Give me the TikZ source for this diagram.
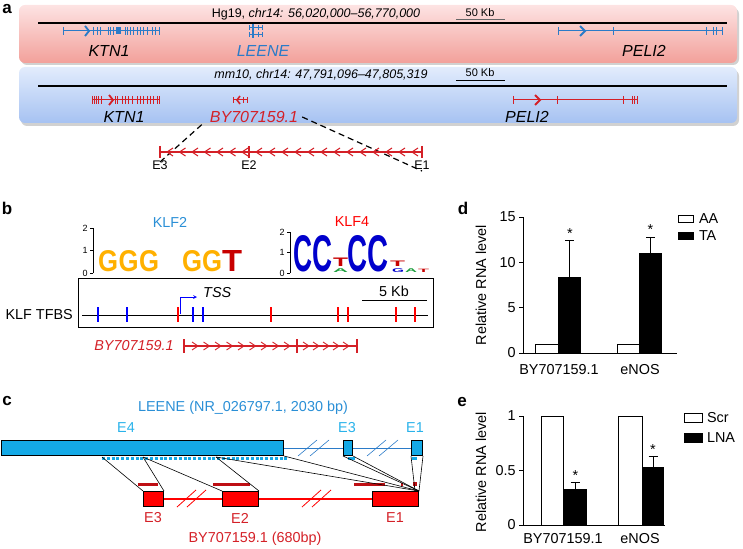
\documentclass[tikz,border=0pt]{standalone}
\usepackage{graphicx}
\usepackage{fontspec}
\setmainfont{Liberation Sans}
\usetikzlibrary{positioning}

\definecolor{hgblue}{HTML}{2B7BC8}
\definecolor{mmred}{HTML}{D42027}
\definecolor{klfblue}{HTML}{2A8FD6}
\definecolor{exoncyan}{HTML}{14A9E6}
\definecolor{exlabel}{HTML}{29B2EA}
\definecolor{darkbar}{HTML}{BE0F14}
\definecolor{logoorange}{HTML}{FFB000}
\definecolor{logored}{HTML}{C80000}
\definecolor{logoblue}{HTML}{0000CC}
\definecolor{logogreen}{HTML}{20A040}
\definecolor{pinktop}{HTML}{FDE3E3}
\definecolor{pinkbot}{HTML}{F2A09A}
\definecolor{bluetop}{HTML}{E2ECFC}
\definecolor{bluebot}{HTML}{A6C2F2}

\newcommand{\fs}[1]{\fontsize{#1}{#1}\selectfont}
% one stretched letter of a sequence logo: x, baseline, width, height, colour, letter, name
\newcommand{\logochar}[7]{\node[anchor=south west,text=#5] (#7) at (#1,#2) {\resizebox{#3pt}{#4pt}{\bfseries #6}};}

\begin{document}
\begin{tikzpicture}[x=1pt,y=-1pt,
  every node/.style={inner sep=0pt},
  panel/.style={font=\fs{17}\bfseries},
  txt/.style={font=\fs{14.4}},
  gene/.style={font=\fs{16}\itshape},
  coord/.style={font=\fs{12.5}\itshape},
  scaletxt/.style={font=\fs{11}},
  exlbl/.style={font=\fs{12.5}},
  axnum/.style={font=\fs{9}},
  cyanex/.style={draw,line width=1pt,fill=exoncyan,minimum height=15,anchor=north west},
  redex/.style={draw,line width=1pt,fill=red,minimum height=15,anchor=north west},
  link/.style={line width=0.6pt},
  bar/.style={line width=0.8pt}]
\useasboundingbox (0,0) rectangle (743,548);

% a: the two loci
\node[panel] (la) at (7,9) {a};
\fill[black!18,rounded corners=6pt] (21,8) rectangle (739,65);
\shade[top color=pinktop,bottom color=pinkbot,rounded corners=6pt] (19,5) rectangle (737,63);
\node[coord] (hgtitle) at (316,14) {\upshape Hg19, \itshape chr14: 56,020,000--56,770,000};
\node[scaletxt] (hgscale) at (480,13) {50 Kb};
\draw[black!60,line width=1.3pt] (456,19.5) -- (505,19.5);
\draw[line width=1.3pt] (38,23) -- (727,23);
\begin{scope}[hgblue,line width=1pt]
  \draw (63,31) -- (160,31);
  \foreach \x in {63,93,97,100,108,110,113,125,127,130,133,137,140,143,147,152,155,159}
    \draw (\x,27) -- (\x,35);
  \fill (116,27.5) rectangle (121,34.5);
  \draw[line width=1.8pt] (85,26) -- (89,31) -- (85,36);
  % LEENE
  \draw (249,27.5) -- (262,27.5);
  \draw (249,35) -- (262,35);
  \draw[line width=1.6pt] (253,24) -- (253,38.5);
  \foreach \x in {249,258,262}
    {\draw (\x,25) -- (\x,30); \draw (\x,32.5) -- (\x,37.5);}
  % PELI2
  \draw (558,31) -- (722,31);
  \foreach \x in {558,613,706,713,716,722}
    \draw (\x,27) -- (\x,35);
  \draw[line width=1.8pt] (580,26) -- (585,31) -- (580,36);
\end{scope}
\node[gene] (ktnh) at (109,51) {KTN1};
\node[gene,text=hgblue] (leene) at (263,51) {LEENE};
\node[gene] (pelih) at (644,51) {PELI2};

\fill[black!18,rounded corners=6pt] (21,70) rectangle (739,126);
\shade[top color=bluetop,bottom color=bluebot,rounded corners=6pt] (19,67) rectangle (737,123);
\node[coord] (mmtitle) at (321,75) {mm10, chr14: 47,791,096--47,805,319};
\node[scaletxt] (mmscale) at (480,73) {50 Kb};
\draw[line width=1.3pt] (456,80.5) -- (505,80.5);
\draw[line width=1.3pt] (38,86) -- (727,86);
\begin{scope}[mmred,line width=1pt]
  \draw (92,100) -- (159,100);
  \foreach \x in {92,94,96,98,101,115,117,122,125,128,132,137,140,143,147,150,153,157,159}
    \draw (\x,96) -- (\x,104);
  \draw[line width=1.8pt] (109,95) -- (113,100) -- (109,105);
  \draw (233,100) -- (247,100);
  \foreach \x in {233,243,247}
    \draw (\x,97) -- (\x,103);
  \draw[line width=1.6pt] (240,96) -- (237,100) -- (240,104);
  \draw (513,100) -- (638,100);
  \foreach \x in {513,557,623,632,634,637}
    \draw (\x,96) -- (\x,104);
  \draw[line width=1.8pt] (535,95) -- (540,100) -- (535,105);
\end{scope}
\node[gene] (ktnm) at (124,117) {KTN1};
\node[gene,text=mmred] (bym) at (254,117) {BY707159.1};
\node[gene] (pelim) at (527,117) {PELI2};

% zoom on BY707159.1
\coordinate (e3a) at (160,152);
\coordinate (e2a) at (249,152);
\coordinate (e1a) at (422,152);
\draw[dashed,dash pattern=on 6pt off 4pt,line width=1.2pt] ([yshift=-10pt]e3a) -- ([xshift=-6pt]bym.south west);
\draw[dashed,dash pattern=on 6pt off 4pt,line width=1.2pt] ([xshift=4pt]bym.east) -- ([yshift=-19pt]e1a);
\begin{scope}[mmred]
  \draw[line width=1.5pt] (e3a) -- (e1a);
  \draw[line width=1.5pt] (160,146) -- (160,158);
  \draw[line width=2.6pt] (249,146) -- (249,158);
  \draw[line width=2.6pt] (422,146) -- (422,158);
  \foreach \x in {167,179.5,...,245}
    \draw[line width=1pt] (\x+6,148) -- (\x,152) -- (\x+6,156);
  \foreach \x in {256,269,...,415}
    \draw[line width=1pt] (\x+6,148) -- (\x,152) -- (\x+6,156);
\end{scope}
\node[exlbl,below=9pt of e3a] (e3t) {E3};
\node[exlbl,below=9pt of e2a] (e2t) {E2};
\node[exlbl,below=9pt of e1a] (e1t) {E1};

% b: motifs and binding sites
\node[panel] (lb) at (7,208) {b};
\node[txt,text=klfblue] (klf2) at (170,222) {KLF2};
\node[txt,text=red] (klf4) at (352,222) {KLF4};
\draw[line width=0.6pt] (93,228) -- (93,273);
\foreach \y/\t in {228/2,250.5/1,273/0}
  \draw[line width=0.6pt] (93,\y) -- (90,\y) node[axnum,anchor=east,xshift=-2pt] (k2ax\t) {\t};
\logochar{98}{272}{20}{21}{logoorange}{G}{g1}
\logochar{118.5}{272}{20}{21}{logoorange}{G}{g2}
\logochar{139}{272}{20}{21}{logoorange}{G}{g3}
\logochar{182}{272}{20}{21}{logoorange}{G}{g4}
\logochar{202}{272}{20}{21}{logoorange}{G}{g5}
\logochar{222}{272}{20}{21}{logored}{T}{t1}
\draw[line width=0.6pt] (290,232) -- (290,273);
\foreach \y/\t in {232/2,252.5/1,273/0}
  \draw[line width=0.6pt] (290,\y) -- (287,\y) node[axnum,anchor=east,xshift=-2pt] (k4ax\t) {\t};
\logochar{293}{272}{19}{36}{logoblue}{C}{c1}
\logochar{312}{272}{20}{36}{logoblue}{C}{c2}
\logochar{333}{266.8}{15}{8.5}{logored}{T}{t2}
\logochar{333}{272.3}{15}{3.8}{logogreen}{A}{a1}
\logochar{347}{272}{20}{36}{logoblue}{C}{c3}
\logochar{367}{272}{21}{36}{logoblue}{C}{c4}
\logochar{390}{266.8}{15}{5.5}{logored}{T}{t3}
\logochar{392}{272.3}{12}{3.8}{logoblue}{G}{g6}
\logochar{405}{272.3}{12}{3.8}{logogreen}{A}{a2}
\logochar{418}{272.3}{11}{3.3}{logored}{T}{t4}

\node[draw,line width=1.2pt,minimum width=355,minimum height=49,anchor=north west] (tfbs) at (78,278) {};
\node[txt,anchor=east] (tfbst) at (73,315) {KLF TFBS};
\draw[line width=0.8pt] (82,315) -- (428,315);
\foreach \x in {98,127,193,203}
  \draw[blue,line width=1.6pt] (\x,307) -- (\x,322);
\foreach \x in {178,271,338,348,396,415}
  \draw[red,line width=1.6pt] (\x,307) -- (\x,322);
\draw[blue,line width=0.7pt,-stealth] (180,314) -- (180,297) -- (197,297);
\node[txt,font=\fs{14.4}\itshape,anchor=west] (tss) at (203,293) {TSS};
\node[txt] (kb5) at (394,291) {5 Kb};
\draw[line width=1pt] (362,300) -- (427,300);

\node[txt,font=\fs{14.4}\itshape,text=mmred] (byb) at (134,346) {BY707159.1};
\begin{scope}[mmred]
  \draw[line width=1.4pt] (184,346) -- (357,346);
  \draw[line width=2.6pt] (184,339) -- (184,353);
  \draw[line width=2.6pt] (297,339) -- (297,353);
  \draw[line width=1.2pt] (357,339) -- (357,353);
  \foreach \x in {192,203.5,...,292}
    \draw[line width=0.9pt] (\x,342) -- (\x+6,346) -- (\x,350);
  \foreach \x in {303,313,...,352}
    \draw[line width=0.9pt] (\x,342) -- (\x+6,346) -- (\x,350);
\end{scope}

% c: exon structure
\node[panel] (lc) at (7,401) {c};
\node[txt,text=klfblue] (leenet) at (243,408) {LEENE (NR\_026797.1, 2030 bp)};
\node[txt,text=exlabel] (le4t) at (126,428) {E4};
\node[txt,text=exlabel] (le3t) at (347,428) {E3};
\node[txt,text=exlabel] (le1t) at (415,428) {E1};
\node[cyanex,minimum width=282] (le4) at (1,440) {};
\node[cyanex,minimum width=9] (le3) at (343,440) {};
\node[cyanex,minimum width=11] (le1) at (411,440) {};
\draw[hgblue,line width=0.6pt] (le4.east) -- (le3.west);
\draw[hgblue,line width=0.6pt] (le3.east) -- (le1.west);
\foreach \x in {298,310,367,379}
  \draw[hgblue,line width=0.6pt] (\x,456) -- (\x+19,440);
\draw[exoncyan,line width=3pt,dash pattern=on 3pt off 1.8pt] (102,458.5) -- (288,458.5);
\fill[exoncyan] (348,457) rectangle (355,460);
\fill[exoncyan] (412,457) rectangle (417,460);

\node[redex,minimum width=20] (re3) at (143,491) {};
\node[redex,minimum width=36] (re2) at (222,491) {};
\node[redex,minimum width=46] (re1) at (372,491) {};
\draw[red,line width=1.1pt] (re3.east) -- (re2.west);
\draw[red,line width=1.1pt] (re2.east) -- (re1.west);
\foreach \x in {177,187,302,312}
  \draw[red,line width=0.8pt] (\x,507) -- (\x+19,490);
\draw[darkbar,line width=3pt] (138,484) -- (158,484);
\draw[darkbar,line width=3pt] (213,484) -- (250,484);
\draw[darkbar,line width=3pt] (354,484) -- (385,484);
\fill[darkbar] (413,482) rectangle (417,486);
\fill[darkbar] (401,482.5) rectangle (403,485.5);

\coordinate (d1) at (102,457);
\coordinate (d2) at (143,457);
\coordinate (d3) at (216,457);
\draw[link] (d1) -- (re3.north west);
\draw[link] (d2) -- (re3.north east);
\draw[link] (d2) -- (re2.north west);
\draw[link] (d3) -- (re2.north east);
\draw[link] (d3) -- (re1.north east);
\draw[link] (le4.south east) -- (re1.north east);
\draw[link] (le3.south west) -- (re1.north east);
\draw[link] (le3.south east) -- (re1.north east);
\draw[link] (le1.south west) -- ([xshift=-4pt]re1.north east);
\draw[link] (le1.south east) -- (re1.north east);

\node[txt,text=mmred] (re3t) at (153,518) {E3};
\node[txt,text=mmred] (re2t) at (240,518) {E2};
\node[txt,text=mmred] (re1t) at (395,518) {E1};
\node[txt,text=mmred] (byc) at (255,539) {BY707159.1 (680bp)};

% d: induction by TA
\node[panel] (ld) at (463,208) {d};
\draw[bar] (523,217) -- (523,353) -- (677,353);
\foreach \v in {0,5,10,15}
  \draw[bar] (523,353-9.07*\v) -- (519,353-9.07*\v) node[txt,anchor=east,xshift=-3pt] (dy\v) {\v};
\node[txt,rotate=90] (dylab) at (481,285) {Relative RNA level};
\draw[bar,fill=white] (535,353) rectangle (558,344);
\fill (558,353) rectangle (581,276.8);
\draw[bar] (569.5,276.8) -- (569.5,240.5) (565,240.5) -- (574,240.5);
\draw[bar,fill=white] (617,353) rectangle (639,344);
\fill (639,353) rectangle (662,253);
\draw[bar] (650.5,253) -- (650.5,237) (646,237) -- (655,237);
\node[txt] (sd1) at (570,234) {*};
\node[txt] (sd2) at (650.5,230) {*};
\node[txt] (dx1) at (559,370) {BY707159.1};
\node[txt] (dx2) at (640,370) {eNOS};
\node[draw,bar,fill=white,minimum width=15,minimum height=7,anchor=north west] (aabox) at (678,215) {};
\node[draw,bar,fill=black,minimum width=15,minimum height=7,anchor=north west] (tabox) at (678,232) {};
\node[txt,anchor=west,right=5pt of aabox] (aat) {AA};
\node[txt,anchor=west,right=5pt of tabox] (tat) {TA};

% e: knock-down by LNA
\node[panel] (le) at (462,402) {e};
\draw[bar] (523,416) -- (523,525) -- (665,525);
\foreach \v/\t in {0/0,0.5/0.5,1/1}
  \draw[bar] (523,525-109*\v) -- (519,525-109*\v) node[txt,anchor=east,xshift=-3pt] (ey\t) {\t};
\node[txt,rotate=90] (eylab) at (481,472) {Relative RNA level};
\draw[bar,fill=white] (541,525) rectangle (563,416);
\fill (563,525) rectangle (587,489);
\draw[bar] (575,489) -- (575,482.5) (570.5,482.5) -- (579.5,482.5);
\draw[bar,fill=white] (618,525) rectangle (642,416);
\fill (642,525) rectangle (664,467);
\draw[bar] (653,467) -- (653,456) (648.5,456) -- (657.5,456);
\node[txt] (se1) at (575.5,476) {*};
\node[txt] (se2) at (653,449.5) {*};
\node[txt] (ex1) at (563,539) {BY707159.1};
\node[txt] (ex2) at (640,539) {eNOS};
\node[draw,bar,fill=white,minimum width=18,minimum height=9,anchor=north west] (scrbox) at (684,413) {};
\node[draw,bar,fill=black,minimum width=18,minimum height=9,anchor=north west] (lnabox) at (684,433) {};
\node[txt,anchor=west,right=4pt of scrbox] (scrt) {Scr};
\node[txt,anchor=west,right=4pt of lnabox] (lnat) {LNA};
\end{tikzpicture}
\end{document}
